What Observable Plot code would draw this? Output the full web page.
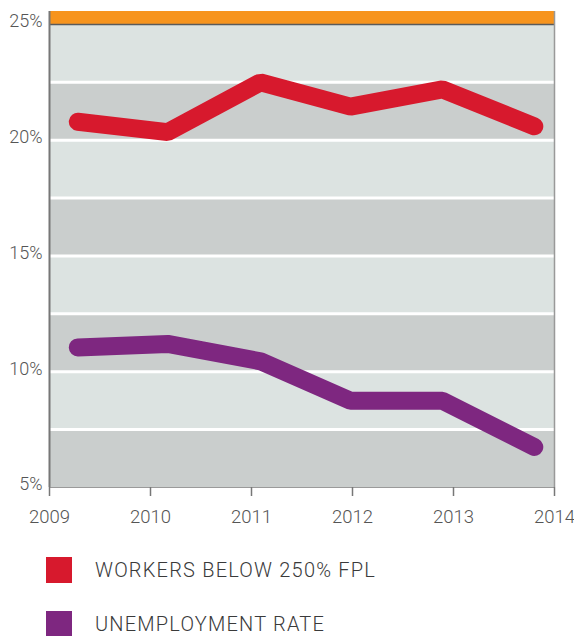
<!DOCTYPE html>
<html>
<head>
<meta charset="utf-8">
<script src="https://cdn.jsdelivr.net/npm/d3@7"></script>
<script src="https://cdn.jsdelivr.net/npm/@observablehq/plot@0.6"></script>
<style>
  html, body { margin: 0; padding: 0; background: #fff; }
  body { width: 574px; font-family: Roboto, "Liberation Sans", sans-serif; font-weight: 300; }
  .legend { position: relative; height: 106px; }
  .item { position: absolute; left: 46px; display: flex; align-items: center; }
  .sw { width: 26px; height: 26px; margin-right: 23px; }
  .lbl { font-size: 20px; color: #3a3a3a; letter-spacing: 1.2px; white-space: nowrap; }
</style>
</head>
<body>
<div id="chart"></div>
<div class="legend" id="legend"></div>
<script>
// Data
const positions = [2009.28, 2010.17, 2011.09, 2011.98, 2012.89, 2013.80];
const workersBelow250FPL = [20.8, 20.35, 22.5, 21.45, 22.2, 20.6];
const unemploymentRate = [11.05, 11.2, 10.45, 8.75, 8.75, 6.75];
const seriesNames = ["WORKERS BELOW 250% FPL", "UNEMPLOYMENT RATE"];
const seriesColors = ["#D7192D", "#7E2780"];
const yTicks = [5, 10, 15, 20, 25];
const xTicks = [2009, 2010, 2011, 2012, 2013, 2014];
const bandEdges = [5, 7.5, 10, 12.5, 15, 17.5, 20, 22.5, 25];

const rows = [
  ...positions.map((x, i) => ({x, y: workersBelow250FPL[i], s: seriesNames[0]})),
  ...positions.map((x, i) => ({x, y: unemploymentRate[i], s: seriesNames[1]}))
];
const bands = bandEdges.slice(0, -1).map((y1, i) => ({y1, y2: bandEdges[i + 1], dark: i % 2 === 0}));
const yTop = 25.56;

const chart = Plot.plot({
  width: 574,
  height: 532,
  marginLeft: 49,
  marginRight: 20,
  marginTop: 11,
  marginBottom: 45,
  style: {fontFamily: "Roboto, 'Liberation Sans', sans-serif", fontWeight: 300, fontSize: "18px", color: "#555", background: "#fff", overflow: "visible"},
  x: {domain: [2009, 2014], ticks: xTicks, tickFormat: "d", label: null},
  y: {domain: [5, yTop], ticks: yTicks, tickFormat: d => d + "%", label: null},
  marks: [
    Plot.rectY(bands, {x1: 2009, x2: 2014, y1: "y1", y2: "y2", fill: d => d.dark ? "#CACECD" : "#DCE3E1"}),
    Plot.rectY([{y1: 25, y2: yTop}], {x1: 2009, x2: 2014, y1: "y1", y2: "y2", fill: "#F7941D"}),
    Plot.ruleY(bandEdges.slice(1, -1), {stroke: "#fff", strokeWidth: 3}),
    Plot.ruleY([25], {stroke: "#5a5a5a", strokeWidth: 1.5}),
    Plot.ruleY([5], {stroke: "#9a9a9a", strokeWidth: 1}),
    Plot.ruleX([2009], {stroke: "#777", strokeWidth: 2}),
    Plot.ruleX([2014], {stroke: "#999", strokeWidth: 1.5}),
    Plot.line(rows, {x: "x", y: "y", z: "s", stroke: d => d.s, strokeWidth: 18, strokeLinecap: "round", strokeLinejoin: "miter"}),
    Plot.axisY({ticks: yTicks, tickFormat: d => d + "%", tickSize: 0, tickPadding: 7, dy: -3, fontSize: 18, fill: "#555"}),
    Plot.axisX({ticks: xTicks, tickFormat: "d", tickSize: 9, tickPadding: 13, fontSize: 18.5, fill: "#555", stroke: "#777", strokeWidth: 1.5})
  ],
  color: {domain: seriesNames, range: seriesColors}
});
document.getElementById("chart").appendChild(chart);

const legend = document.getElementById("legend");
seriesNames.forEach((name, i) => {
  const item = document.createElement("div");
  item.className = "item";
  item.style.top = (25 + i * 54) + "px";
  item.innerHTML = `<div class="sw" style="background:${seriesColors[i]}"></div><div class="lbl">${name}</div>`;
  legend.appendChild(item);
});
</script>
</body>
</html>
